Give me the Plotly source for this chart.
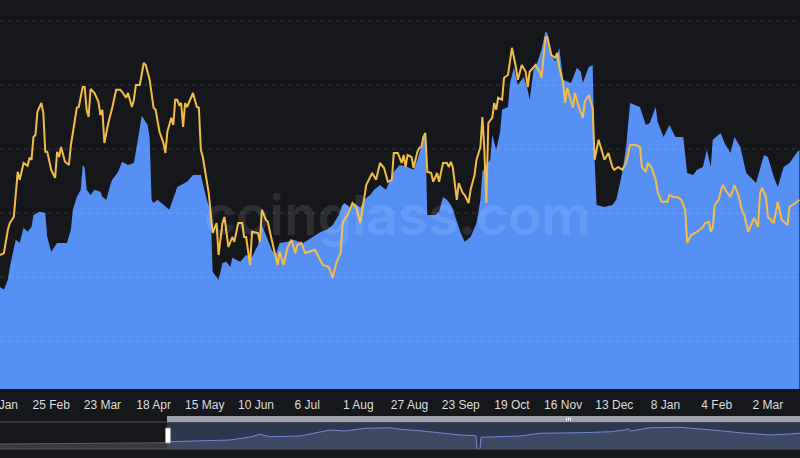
import plotly.graph_objects as go

W, H = 800, 458
BG = "#16171a"
BLUE = "#5790f5"
YELLOW = "#f2bd47"

# ---- main view (category/day index of the visible window) ----
blue_day = [0, 2, 4, 5, 8, 10, 12, 14, 16, 17, 20, 23, 24, 26, 29, 34, 36, 37, 39, 41,
            42, 43, 44, 46, 48, 51, 52, 54, 56, 57, 60, 62, 65, 68, 69, 71, 72, 75, 76, 77,
            78, 80, 83, 86, 89, 90, 95, 98, 102, 103, 105, 107, 108, 111, 113, 115, 117, 118, 122, 125,
            128, 131, 133, 136, 138, 140, 142, 146, 149, 154, 159, 163, 166, 169, 172, 174, 175, 178, 180, 183,
            185, 188, 190, 193, 196, 198, 200, 203, 207, 210, 212, 215, 216, 217, 221, 223, 225, 227, 229, 230,
            234, 236, 239, 242, 244, 245, 247, 249, 250, 252, 254, 255, 258, 259, 261, 263, 266, 268, 269, 271,
            273, 275, 277, 278, 279, 282, 284, 286, 290, 293, 295, 296, 299, 301, 302, 303, 307, 311, 313, 316,
            318, 320, 323, 325, 328, 330, 333, 334, 337, 340, 343, 347, 349, 352, 354, 357, 359, 361, 362, 366,
            368, 371, 373, 376, 379, 381, 384, 388, 390, 393, 395, 398, 401, 405, 406]
blue_val = [29.5, 28.8, 31.3, 34.5, 41.3, 40.5, 44.3, 43.3, 44.5, 47.5, 48.3, 48.0, 42.0, 38.3, 40.5, 40.5, 43.8, 48.8, 52.0, 53.8,
            60.0, 59.3, 53.8, 52.5, 53.8, 53.3, 52.0, 51.3, 55.0, 56.3, 58.3, 60.8, 60.0, 60.5, 63.3, 70.0, 72.3, 70.0, 66.8, 51.3,
            50.5, 51.3, 50.0, 48.8, 53.0, 54.5, 55.8, 57.5, 57.5, 55.5, 51.3, 48.3, 33.3, 31.3, 35.5, 35.8, 34.5, 36.8, 35.8, 37.5,
            37.0, 40.0, 45.0, 41.3, 38.8, 37.5, 40.5, 40.8, 41.3, 40.5, 42.0, 43.3, 43.8, 45.0, 47.5, 50.0, 50.5, 49.3, 50.5, 49.3,
            51.3, 52.5, 53.8, 55.0, 53.8, 56.3, 58.3, 60.0, 59.5, 58.8, 61.3, 66.3, 68.0, 47.5, 47.5, 48.3, 52.0, 51.3, 50.0, 48.8,
            43.0, 40.8, 42.0, 45.5, 51.3, 58.3, 60.0, 61.3, 67.5, 63.8, 68.3, 73.8, 74.5, 80.5, 84.3, 80.0, 82.0, 78.8, 76.3, 83.8,
            85.8, 88.8, 93.3, 93.0, 88.8, 85.8, 89.3, 81.3, 80.5, 84.3, 83.3, 80.5, 84.5, 85.0, 61.3, 50.0, 49.5, 50.0, 51.3, 58.0,
            64.5, 75.5, 75.0, 74.5, 70.0, 70.5, 74.5, 70.8, 67.0, 70.0, 67.0, 67.0, 58.0, 57.5, 58.8, 59.5, 63.8, 59.5, 66.3, 68.0,
            65.5, 63.0, 67.0, 64.5, 58.0, 57.0, 55.5, 62.5, 62.0, 57.0, 54.5, 59.5, 60.5, 63.3, 63.8]

price_day = [0, 2, 4, 5, 7, 8, 9, 10, 12, 14, 15, 16, 17, 18, 19, 21, 22, 23, 24, 26,
             28, 29, 30, 31, 33, 35, 36, 37, 39, 40, 42, 43, 44, 45, 46, 48, 50, 51, 52, 53,
             55, 57, 59, 61, 62, 64, 65, 67, 68, 69, 71, 73, 74, 76, 78, 79, 81, 83, 84, 85,
             87, 88, 89, 90, 91, 92, 93, 94, 95, 98, 100, 101, 102, 103, 104, 105, 106, 107, 108, 110,
             111, 113, 114, 116, 118, 119, 121, 123, 124, 125, 126, 127, 128, 131, 132, 133, 135, 136, 138, 141,
             142, 144, 146, 148, 150, 151, 153, 155, 157, 160, 162, 164, 167, 169, 171, 173, 174, 177, 179, 181,
             183, 186, 189, 191, 193, 195, 197, 199, 200, 202, 204, 205, 206, 207, 209, 210, 212, 213, 214, 215,
             216, 217, 219, 220, 222, 223, 225, 227, 228, 229, 230, 231, 232, 233, 235, 236, 238, 239, 241, 242,
             244, 245, 246, 247, 248, 250, 251, 252, 253, 255, 256, 258, 260, 262, 263, 265, 267, 268, 269, 272,
             274, 275, 277, 278, 280, 282, 283, 284, 286, 287, 288, 291, 292, 294, 296, 297, 299, 301, 302, 304,
             305, 307, 309, 311, 312, 314, 316, 318, 320, 323, 325, 326, 328, 329, 331, 333, 334, 336, 339, 340,
             342, 344, 346, 348, 349, 351, 354, 357, 358, 360, 361, 362, 363, 365, 366, 367, 369, 371, 373, 375,
             377, 378, 380, 382, 383, 385, 386, 387, 389, 390, 393, 395, 397, 400, 401, 404, 406]
price_val = [37.5, 38.0, 43.8, 45.5, 47.0, 52.5, 58.3, 56.3, 60.5, 59.8, 61.8, 61.3, 67.0, 67.5, 73.3, 75.5, 73.0, 63.3, 63.3, 58.8,
             56.8, 63.3, 62.0, 64.5, 60.8, 60.0, 65.0, 68.0, 74.3, 74.5, 79.5, 79.5, 73.8, 72.0, 79.0, 78.0, 75.8, 72.5, 73.8, 65.5,
             70.5, 74.3, 78.8, 78.8, 78.3, 76.8, 78.0, 74.5, 76.3, 80.0, 80.0, 85.5, 85.0, 81.3, 74.3, 73.8, 68.3, 65.5, 63.0, 68.3,
             71.8, 70.0, 76.3, 76.3, 75.0, 75.5, 69.5, 75.5, 74.5, 78.0, 74.5, 74.3, 63.8, 62.0, 58.8, 55.5, 53.0, 48.0, 43.0, 45.5,
             37.5, 45.5, 47.0, 39.5, 42.0, 40.8, 45.5, 45.5, 42.0, 42.0, 38.0, 35.0, 43.3, 43.0, 40.8, 48.8, 46.3, 45.8, 41.3, 35.0,
             38.3, 35.0, 39.3, 41.3, 38.0, 40.0, 40.5, 38.0, 38.3, 38.8, 36.8, 35.0, 34.5, 31.8, 35.8, 38.0, 45.5, 48.0, 50.5, 49.3,
             45.5, 55.0, 58.0, 56.3, 60.5, 59.3, 55.8, 56.3, 63.0, 63.0, 60.5, 62.5, 59.5, 62.5, 62.0, 59.3, 63.3, 64.3, 64.5, 67.0,
             68.0, 58.3, 58.0, 55.8, 58.0, 55.8, 60.5, 60.5, 59.5, 60.8, 59.3, 54.5, 51.3, 55.5, 53.0, 52.5, 50.5, 53.8, 57.5, 61.3,
             64.5, 72.0, 63.8, 50.5, 70.5, 71.8, 75.5, 73.8, 76.8, 76.3, 81.8, 82.5, 89.3, 84.5, 81.3, 85.0, 83.3, 79.5, 83.3, 85.0,
             83.3, 81.8, 91.8, 92.0, 87.5, 86.8, 88.0, 84.5, 80.5, 75.5, 79.3, 74.3, 78.0, 74.5, 71.8, 75.8, 77.5, 74.3, 61.3, 66.3,
             64.5, 61.3, 63.0, 59.5, 58.8, 59.5, 58.8, 60.5, 65.0, 65.0, 64.5, 59.5, 58.3, 60.5, 59.3, 56.3, 53.3, 50.8, 50.8, 52.5,
             52.0, 52.0, 51.3, 48.8, 40.5, 42.5, 43.3, 44.5, 45.5, 45.8, 43.3, 44.3, 50.0, 51.3, 53.3, 55.0, 53.3, 52.0, 55.0, 52.5,
             48.3, 47.5, 43.3, 45.5, 46.8, 44.5, 53.0, 54.3, 52.0, 47.0, 45.5, 50.8, 46.3, 45.0, 49.5, 50.5, 51.3]

tick_day = [0, 26, 52, 78, 104, 130, 156, 182, 208, 234, 260, 286, 312, 338, 364, 390]
tick_text = ["30 Jan", "25 Feb", "23 Mar", "18 Apr", "15 May", "10 Jun", "6 Jul", "1 Aug",
             "27 Aug", "23 Sep", "19 Oct", "16 Nov", "13 Dec", "8 Jan", "4 Feb", "2 Mar"]

# ---- overview strip (data-zoom slider) ----
overview_day_before = [-167, -110, -50, 0]
overview_val_before = [20, 22, 24, 25]
overview_day_window = [0, 33, 63, 83, 93, 103, 118, 133, 148, 163, 178, 198, 223, 233, 253, 273, 293, 309, 310, 313,
                       314, 353, 373, 413, 443, 458, 461, 464, 483, 513, 533, 553, 573, 603, 623, 633]
overview_val_window = [29, 32, 36, 48, 59, 49, 52, 52, 64, 76, 72, 83, 85, 79, 73, 63, 56, 53, 0, 0,
                       47, 52, 63, 65, 69, 76, 81, 72, 85, 87, 81, 73, 65, 56, 60, 63]

GRID_STEP = 16


def py(y):
    return (H - y) / H


def pxx(x):
    return x / W


fig = go.Figure()

fig.add_trace(go.Scatter(x=blue_day, y=blue_val, mode="lines", line=dict(width=0, color=BLUE),
                         fill="tozeroy", fillcolor=BLUE, hoverinfo="skip", showlegend=False))
fig.add_trace(go.Scatter(x=price_day, y=price_val, mode="lines", line=dict(width=2, color=YELLOW),
                         hoverinfo="skip", showlegend=False))

fig.add_trace(go.Scatter(x=overview_day_before, y=overview_val_before, xaxis="x2", yaxis="y2",
                         mode="lines", line=dict(width=1, color="#5d5f66"), fill="tozeroy",
                         fillcolor="#393a40", hoverinfo="skip", showlegend=False))
fig.add_trace(go.Scatter(x=overview_day_window, y=overview_val_window, xaxis="x2", yaxis="y2",
                         mode="lines", line=dict(width=1, color="#6f8cd0"), fill="tozeroy",
                         fillcolor="#3d4865", hoverinfo="skip", showlegend=False))

shapes = []
# dashed split lines drawn over the area
for k in range(1, 7):
    shapes.append(dict(type="line", xref="paper", yref="y", x0=0, x1=1, y0=k * GRID_STEP, y1=k * GRID_STEP,
                       line=dict(color="rgba(255,255,255,0.13)", width=1, dash="4px,4px"), layer="above"))

# slider decorations
shapes += [
    dict(type="rect", xref="paper", yref="paper", x0=pxx(167), x1=1.02, y0=py(449), y1=py(422),
         fillcolor="#2e3650", line=dict(width=0), layer="below"),
    dict(type="rect", xref="paper", yref="paper", x0=-0.02, x1=1.02, y0=py(449), y1=py(422),
         fillcolor="rgba(0,0,0,0)", line=dict(color="#50535c", width=1), layer="above"),
    dict(type="rect", xref="paper", yref="paper", x0=pxx(167), x1=1.02, y0=py(422), y1=py(416),
         fillcolor="#9ea2ac", line=dict(width=0), layer="above"),
    dict(type="rect", xref="paper", yref="paper", x0=pxx(165.5), x1=pxx(170.5), y0=py(443), y1=py(428),
         fillcolor="#ffffff", line=dict(color="#9a9a9a", width=1), layer="above"),
]
for gx in (566.5, 568.5, 570.5):
    shapes.append(dict(type="line", xref="paper", yref="paper", x0=pxx(gx), x1=pxx(gx), y0=py(420.5), y1=py(417.5),
                       line=dict(color="#ffffff", width=1), layer="above"))

fig.update_layout(
    width=W, height=H,
    margin=dict(l=0, r=0, t=0, b=0, pad=0, autoexpand=False),
    paper_bgcolor=BG, plot_bgcolor=BG,
    showlegend=False, hovermode=False,
    xaxis=dict(domain=[0, 1], range=[0, 406.3], tickmode="array", tickvals=tick_day, ticktext=tick_text,
               ticks="outside", ticklen=5, tickcolor=BG, showgrid=False, zeroline=False, showline=False,
               tickfont=dict(family="Liberation Sans, Arial, sans-serif", size=12, color="#dedede"),
               ticklabeloverflow="allow", automargin=False, anchor="y", fixedrange=True),
    yaxis=dict(domain=[py(389), 1], range=[4, 101.25], visible=False, showgrid=False, zeroline=False,
               automargin=False, anchor="x", fixedrange=True),
    xaxis2=dict(domain=[0, 1], range=[-167, 633], visible=False, automargin=False, anchor="y2", fixedrange=True),
    yaxis2=dict(domain=[py(449), py(422)], range=[0, 108], visible=False, automargin=False, anchor="x2",
                fixedrange=True),
    shapes=shapes,
    annotations=[dict(text="coinglass.com", xref="paper", yref="paper", x=pxx(397), y=py(215),
                      xanchor="center", yanchor="middle", showarrow=False,
                      font=dict(family="Inter, Noto Sans, sans-serif", size=55, weight=600,
                                color="rgba(255,255,255,0.10)"))],
)

fig.write_html("out.html", config={"displayModeBar": False},
               post_script="document.body.style.margin='0';document.body.style.padding='0';"
                           "document.body.style.background='" + BG + "';document.body.style.overflow='hidden';")
